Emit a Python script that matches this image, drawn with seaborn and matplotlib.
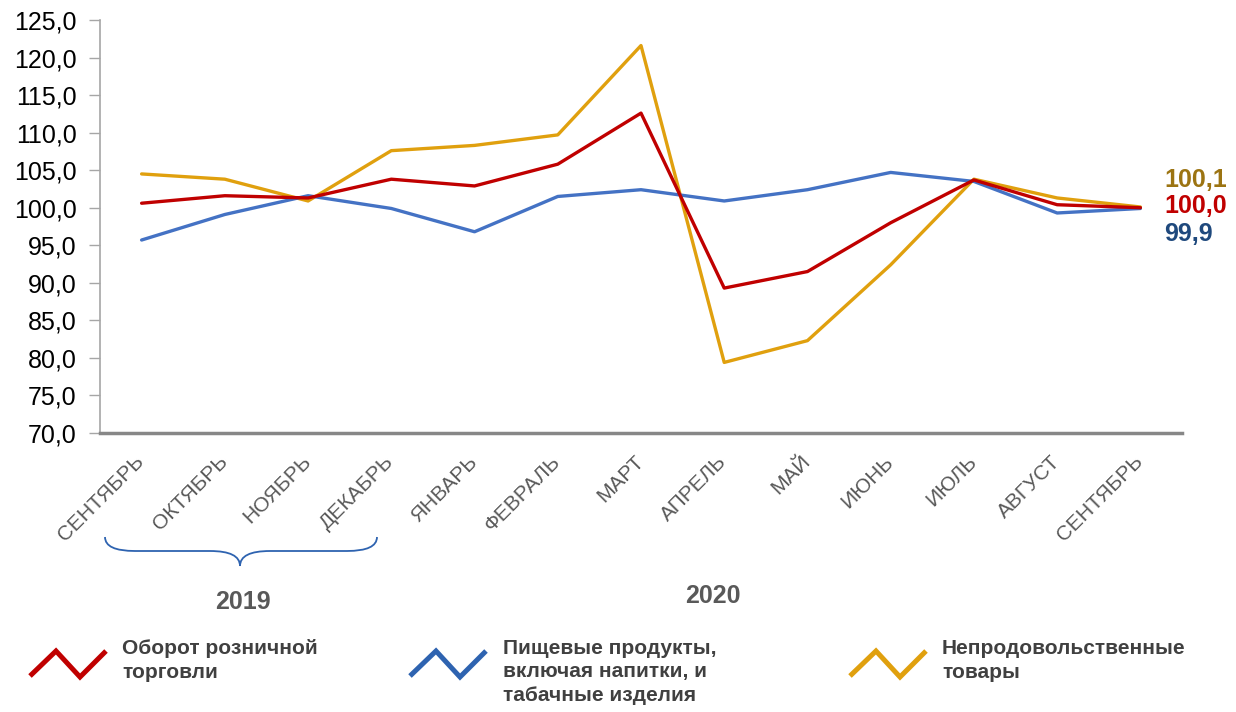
import numpy as np
import pandas as pd
import seaborn as sns
import matplotlib.pyplot as plt
from matplotlib.path import Path
from matplotlib.patches import PathPatch
from matplotlib.lines import Line2D
import matplotlib.transforms as mtransforms

months = ['СЕНТЯБРЬ', 'ОКТЯБРЬ', 'НОЯБРЬ', 'ДЕКАБРЬ', 'ЯНВАРЬ', 'ФЕВРАЛЬ', 'МАРТ',
          'АПРЕЛЬ', 'МАЙ', 'ИЮНЬ', 'ИЮЛЬ', 'АВГУСТ', 'СЕНТЯБРЬ']
retail = [100.6, 101.6, 101.3, 103.8, 102.9, 105.8, 112.6, 89.3, 91.5, 98.0, 103.7, 100.4, 100.0]
food = [95.7, 99.1, 101.6, 99.9, 96.8, 101.5, 102.4, 100.9, 102.4, 104.7, 103.5, 99.3, 99.9]
nonfood = [104.5, 103.8, 100.9, 107.6, 108.3, 109.7, 121.6, 79.4, 82.3, 92.4, 103.8, 101.3, 100.1]

names = ['Оборот розничной\nторговли',
         'Пищевые продукты,\nвключая напитки, и\nтабачные изделия',
         'Непродовольственные\nтовары']
colors = ['#C00000', '#4472C4', '#E0A00E']
legend_colors = ['#C00000', '#2E63B0', '#E0A00E']
label_colors = ['#C00000', '#1F497D', '#9C7412']
yticks = np.arange(70, 126, 5)

df = pd.DataFrame({
    'idx': list(range(len(months))) * 3,
    'value': retail + food + nonfood,
    'series': [names[0]] * 13 + [names[1]] * 13 + [names[2]] * 13,
})

sns.set_style('white')
plt.rcParams['font.family'] = ['Liberation Sans', 'DejaVu Sans']

fig = plt.figure(figsize=(12.36, 7.12), dpi=100)
ax = fig.add_axes([100 / 1236, 1 - 433 / 712, (1182 - 100) / 1236, (433 - 20) / 712])

sns.lineplot(data=df, x='idx', y='value', hue='series', hue_order=[names[2], names[1], names[0]],
             palette=dict(zip(names, colors)), linewidth=2.4, legend=False, ax=ax)

ax.set_xlim(-0.5, 12.5)
ax.set_ylim(70, 125)
ax.set_yticks(yticks)
ax.set_yticklabels([f'{v:.1f}'.replace('.', ',') for v in yticks], fontsize=18, color='black')
ax.set_xticks(range(len(months)))
ax.set_xticklabels([])
ax.set_xlabel('')
ax.set_ylabel('')
ax.tick_params(axis='y', left=True, length=8, width=1, color='#A6A6A6', pad=9)
ax.tick_params(axis='x', bottom=False, pad=0)
for s in ['top', 'right']:
    ax.spines[s].set_visible(False)
ax.spines['left'].set_color('#A6A6A6')
ax.spines['left'].set_linewidth(1.2)
ax.spines['bottom'].set_color('#878787')
ax.spines['bottom'].set_linewidth(2.5)

# rotated month labels, placed like the original
offset = mtransforms.ScaledTranslation(-7 / 100, -19 / 100, fig.dpi_scale_trans)
for i, m in enumerate(months):
    ax.text(i, 0, m, transform=ax.get_xaxis_transform() + offset, rotation=45,
            rotation_mode='anchor', ha='right', va='top', fontsize=15, color='#595959')


def fx(px):
    return px / 1236


def fy(py):
    return 1 - py / 712


# end value labels
last_vals = [nonfood[-1], retail[-1], food[-1]]
for val, col, base in zip(last_vals, [label_colors[2], label_colors[0], label_colors[1]], [187, 213, 241]):
    fig.text(fx(1164), fy(base), f'{val:.1f}'.replace('.', ','), color=col,
             fontsize=18, fontweight='bold', ha='left', va='baseline')

# brace under 2019 months
x0, x1, xm = 105, 377, 240
ytop, ymid, ytip = 537, 551, 566
codes = [Path.MOVETO, Path.CURVE3, Path.CURVE3, Path.LINETO,
         Path.CURVE3, Path.CURVE3, Path.LINETO,
         Path.MOVETO, Path.CURVE3, Path.CURVE3, Path.LINETO, Path.CURVE3, Path.CURVE3]
verts = [(fx(x0), fy(ytop)), (fx(x0), fy(ymid)), (fx(x0 + 30), fy(ymid)), (fx(xm - 30), fy(ymid)),
         (fx(xm), fy(ymid)), (fx(xm), fy(ytip)), (fx(xm), fy(ytip)),
         (fx(xm), fy(ytip)), (fx(xm), fy(ymid)), (fx(xm + 30), fy(ymid)), (fx(x1 - 30), fy(ymid)),
         (fx(x1), fy(ymid)), (fx(x1), fy(ytop))]
brace = PathPatch(Path(verts, codes), transform=fig.transFigure, fill=False,
                  edgecolor='#2E63B0', linewidth=1.3)
fig.add_artist(brace)

fig.text(fx(243), fy(609), '2019', fontsize=18, fontweight='bold', color='#595959', ha='center', va='baseline')
fig.text(fx(713), fy(603), '2020', fontsize=18, fontweight='bold', color='#595959', ha='center', va='baseline')

# legend with zigzag keys
leg_x = [30, 410, 850]
text_x = [122, 503, 942]
for lx, tx, name, col in zip(leg_x, text_x, names, legend_colors):
    zx = [lx, lx + 26, lx + 50, lx + 76]
    zy = [676, 651, 677, 651]
    fig.add_artist(Line2D([fx(v) for v in zx], [fy(v) for v in zy], transform=fig.transFigure,
                          color=col, linewidth=3.6, solid_capstyle='butt', solid_joinstyle='miter'))
    fig.text(fx(tx), fy(639), name, fontsize=15, fontweight='bold', color='#404040',
             ha='left', va='top', linespacing=1.3)

fig.savefig('out.png', dpi=100)
